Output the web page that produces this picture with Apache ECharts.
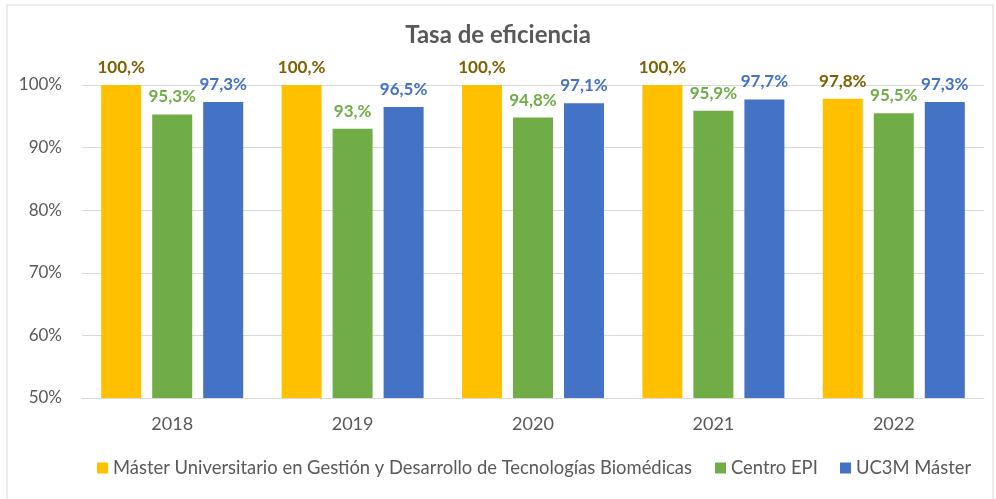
<!DOCTYPE html>
<html><head><meta charset="utf-8">
<script src="https://cdn.jsdelivr.net/npm/echarts@6/dist/echarts.min.js"></script>
<style>html,body{margin:0;padding:0;background:#fff}#c{width:996px;height:499px}</style>
</head><body><div id="c"></div>
<script>
const categories = ['2018','2019','2020','2021','2022'];
const seriesNames = ['Máster Universitario en Gestión y Desarrollo de Tecnologías Biomédicas','Centro EPI','UC3M Máster'];
const masterValues = [100, 100, 100, 100, 97.8];
const epiValues = [95.3, 93, 94.8, 95.9, 95.5];
const uc3mValues = [97.3, 96.5, 97.1, 97.7, 97.3];
const yTicks = [50, 60, 70, 80, 90, 100];

function fmt(v){
  let s = (Math.round(v*10)/10).toString();
  if (s.indexOf('.') >= 0) return s.replace('.', ',') + '%';
  return s + ',%';
}
const colors = ['#ffc000','#70ad47','#4472c4'];
const labelColors = ['#7f6000','#70ad47','#4472c4'];
const datasets = [masterValues, epiValues, uc3mValues];
const legendLefts = [92, 710, 835];
const font = 'Lato, "Open Sans", sans-serif';

const chart = echarts.init(document.getElementById('c'), null, {renderer:'canvas'});
chart.setOption({
  animation:false,
  textStyle:{fontFamily:font},
  title:{text:'Tasa de eficiencia', left:'center', top:18,
    textStyle:{fontFamily:font, fontSize:24, fontWeight:'bold', color:'#595959'}},
  graphic:[{type:'rect', shape:{x:7,y:5,width:986,height:510}, style:{fill:'none', stroke:'#d9d9d9', lineWidth:1}, silent:true}],
  legend: seriesNames.map((n,i)=>({bottom:17, left:legendLefts[i], itemWidth:11, itemHeight:11,
    icon:'rect', textStyle:{fontFamily:font, fontSize:18.4, color:'#595959'}, data:[n]})),
  grid:{left:82, right:12, top:85, bottom:101},
  xAxis:{type:'category', data:categories,
    axisLine:{lineStyle:{color:'#d9d9d9', width:1}}, axisTick:{show:false},
    axisLabel:{fontFamily:font, fontSize:18, color:'#595959', margin:17}},
  yAxis:{type:'value', min:yTicks[0], max:yTicks[yTicks.length-1], interval:10,
    axisLine:{show:false}, axisTick:{show:false},
    splitLine:{lineStyle:{color:'#d9d9d9', width:1}},
    axisLabel:{fontFamily:font, fontSize:17, color:'#595959', margin:20, formatter:v=>v+'%'}},
  series: datasets.map((d,i)=>({
    name:seriesNames[i], type:'bar', data:d, barWidth:40, barGap:'27.5%',
    itemStyle:{color:colors[i]},
    label:{show:true, position:'top', distance:9, formatter:p=>fmt(p.value),
      fontFamily:font, fontSize:17, fontWeight:'bold', color:labelColors[i]}
  }))
});
</script></body></html>
